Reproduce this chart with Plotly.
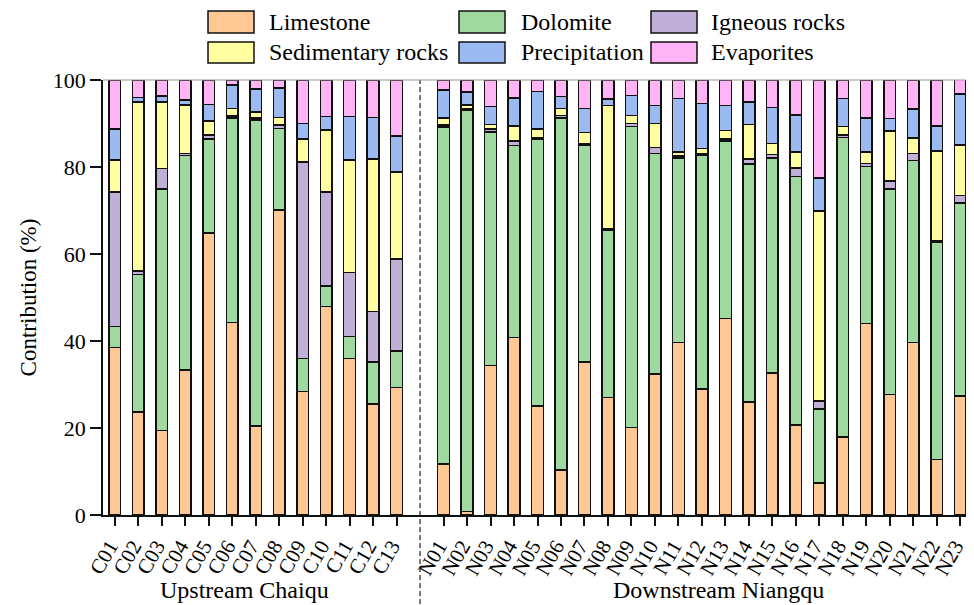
import plotly.graph_objects as go

samples_up = ["C01", "C02", "C03", "C04", "C05", "C06", "C07", "C08", "C09", "C10", "C11", "C12", "C13"]
samples_down = ["N01", "N02", "N03", "N04", "N05", "N06", "N07", "N08", "N09", "N10", "N11", "N12",
                "N13", "N14", "N15", "N16", "N17", "N18", "N19", "N20", "N21", "N22", "N23"]

limestone = [38.5, 23.7, 19.4, 33.3, 64.8, 44.2, 20.5, 70.1, 28.4, 47.9, 36.0, 25.5, 29.3,
             11.7, 0.8, 34.4, 40.8, 25.1, 10.3, 35.2, 27.0, 20.1, 32.4, 39.7, 29.0,
             45.2, 26.0, 32.6, 20.7, 7.4, 17.9, 44.0, 27.7, 39.6, 12.8, 27.4]
dolomite = [4.8, 31.6, 55.5, 49.4, 21.6, 47.1, 70.3, 18.8, 7.6, 4.8, 5.0, 9.7, 8.4,
            77.5, 92.3, 53.7, 44.1, 61.3, 81.0, 49.9, 38.5, 69.2, 50.7, 42.4, 53.6,
            40.8, 54.7, 49.5, 57.1, 17.0, 68.9, 36.1, 47.2, 41.9, 50.0, 44.3]
igneous = [31.0, 0.8, 4.8, 0.4, 1.0, 0.4, 0.5, 0.8, 45.1, 21.5, 14.7, 11.6, 21.1,
           0.5, 0.4, 0.6, 1.1, 0.4, 0.5, 0.3, 0.4, 0.7, 1.4, 0.4, 0.4,
           0.4, 1.1, 0.8, 2.0, 1.8, 0.6, 0.7, 1.9, 1.6, 0.3, 1.7]
sedimentary = [7.3, 38.9, 15.2, 11.2, 3.2, 1.8, 1.4, 1.7, 5.3, 14.3, 25.9, 35.0, 20.0,
               1.6, 0.8, 1.1, 3.4, 1.9, 1.7, 2.5, 28.2, 1.8, 5.5, 1.0, 1.3,
               2.0, 8.0, 2.5, 3.7, 43.7, 1.9, 2.7, 11.5, 3.6, 20.6, 11.7]
precipitation = [7.1, 1.0, 1.4, 1.1, 3.8, 5.4, 5.2, 6.8, 3.6, 3.1, 10.0, 9.6, 8.3,
                 6.4, 3.0, 4.1, 6.5, 8.6, 2.7, 5.6, 1.5, 4.6, 4.1, 12.3, 10.3,
                 5.7, 5.2, 8.3, 8.5, 7.6, 6.5, 7.8, 2.9, 6.6, 5.7, 11.7]
evaporites = [11.3, 4.0, 3.7, 4.6, 5.6, 1.1, 2.1, 1.8, 10.0, 8.4, 8.4, 8.6, 12.9,
              2.3, 2.7, 6.1, 4.1, 2.7, 3.8, 6.5, 4.4, 3.6, 5.9, 4.2, 5.4,
              5.9, 5.0, 6.3, 8.0, 22.5, 4.2, 8.7, 8.8, 6.7, 10.6, 6.4]

series_names = ["Limestone", "Dolomite", "Igneous rocks", "Sedimentary rocks", "Precipitation", "Evaporites"]
series_values = [limestone, dolomite, igneous, sedimentary, precipitation, evaporites]
colors = ["#FEC894", "#A0D9A0", "#C0B0D8", "#FFFFA2", "#9CBAF2", "#FFB4F6"]

y_ticks = [0, 20, 40, 60, 80, 100]
group_labels = ["Upstream Chaiqu", "Downstream Niangqu"]

samples = samples_up + samples_down
# one empty slot separates the two groups
xpos = list(range(len(samples_up))) + [len(samples_up) + 1 + i for i in range(len(samples_down))]
gap_pos = len(samples_up)
nslots = len(samples_up) + 1 + len(samples_down)

# the page body adds an 8px offset; layout coordinates below are page pixels
OFF = 8
W, H = 974 - OFF, 605 - OFF
ML, MR, MT, MB = 103 - OFF, 2, 80 - OFF, 90
PW, PH = W - ML - MR, H - MT - MB

def px(xp):
    return (xp - OFF - ML) / PW

def py(yp):
    return (H - MB - (yp - OFF)) / PH

FONT = "Times New Roman, Liberation Serif, serif"

fig = go.Figure()
for name, vals, col in zip(series_names, series_values, colors):
    fig.add_trace(go.Bar(
        x=xpos, y=vals, name=name, width=0.5,
        marker=dict(color=col, line=dict(color="#111111", width=1.5)),
        showlegend=False,
    ))

# custom legend (large swatches)
leg_cols = [(208, 267), (459, 519), (651, 709)]
leg_rows = [(11, 33), (42, 63)]
for i, name in enumerate(series_names):
    c = i % 3
    r = i // 3
    sx, tx = leg_cols[c]
    y0, y1 = leg_rows[r]
    fig.add_shape(type="rect", xref="paper", yref="paper",
                  x0=px(sx), x1=px(sx + 46), y0=py(y1), y1=py(y0),
                  fillcolor=colors[i], line=dict(color="#111111", width=1.5))
    fig.add_annotation(xref="paper", yref="paper", x=px(tx), y=py((y0 + y1) / 2),
                       text=name, showarrow=False, xanchor="left", yanchor="middle",
                       font=dict(family=FONT, size=24, color="black"))

# dashed separator
fig.add_shape(type="line", xref="x", yref="paper", x0=gap_pos, x1=gap_pos,
              y0=py(604), y1=1, line=dict(color="#222222", width=1.2, dash="5px,3px"))
# top / right frame
fig.add_shape(type="line", xref="paper", yref="paper", x0=0, x1=1, y0=1, y1=1,
              line=dict(color="#999999", width=1))
fig.add_shape(type="line", xref="paper", yref="paper", x0=1, x1=1, y0=0, y1=1,
              line=dict(color="#555555", width=1))

# group labels
fig.add_annotation(xref="paper", yref="paper", x=px(244), y=py(590), text=group_labels[0],
                   showarrow=False, xanchor="center", yanchor="middle",
                   font=dict(family=FONT, size=24, color="black"))
fig.add_annotation(xref="paper", yref="paper", x=px(718), y=py(590), text=group_labels[1],
                   showarrow=False, xanchor="center", yanchor="middle",
                   font=dict(family=FONT, size=24, color="black"))

fig.update_layout(
    width=W, height=H,
    margin=dict(l=ML, r=MR, t=MT, b=MB, autoexpand=False),
    barmode="stack",
    plot_bgcolor="white", paper_bgcolor="white",
    font=dict(family=FONT, size=22, color="black"),
    xaxis=dict(
        range=[-0.5, nslots - 0.5],
        tickmode="array", tickvals=xpos, ticktext=samples,
        tickangle=-60, ticks="outside", ticklen=9, tickwidth=1.5, tickcolor="#111111",
        showline=True, linecolor="#111111", linewidth=1.5,
        showgrid=False, zeroline=False,
        tickfont=dict(family=FONT, size=21),
        ticklabelshift=-5,
        ticklabeloverflow="allow",
        automargin=False,
    ),
    yaxis=dict(
        range=[0, 100],
        tickmode="array", tickvals=y_ticks,
        ticks="outside", ticklen=11, tickwidth=1.5, tickcolor="#111111",
        showline=True, linecolor="#111111", linewidth=1.5,
        showgrid=False, zeroline=False,
        tickfont=dict(family=FONT, size=22),
        title=dict(text="Contribution (%)", font=dict(family=FONT, size=23), standoff=10),
        automargin=False,
    ),
)

fig.write_html("out.html")
